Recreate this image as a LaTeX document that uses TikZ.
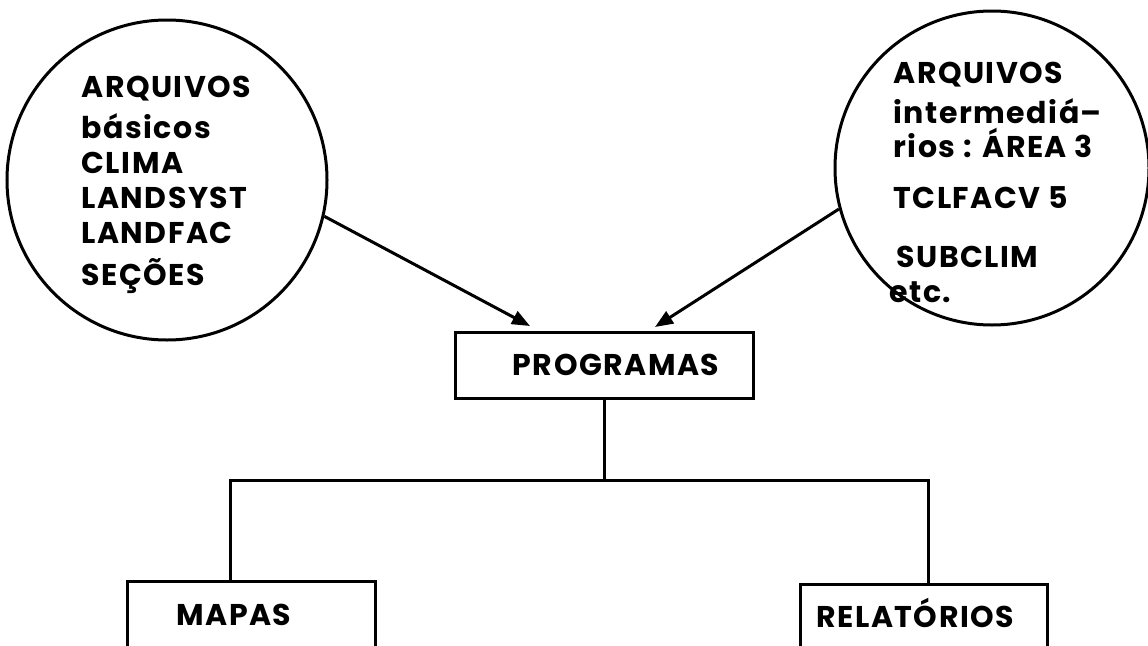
\documentclass[tikz,border=0pt]{standalone}
\usepackage{fontspec}
\setmainfont{Poppins}
\newfontfamily\lblfont{Poppins}[LetterSpace=5]
\usetikzlibrary{arrows.meta}
\begin{document}
\begin{tikzpicture}[x=1pt, y=-1pt, line width=3pt,
  txt/.style={font=\lblfont\fontsize{30}{30}\selectfont\bfseries, inner sep=0pt, anchor=base west},
  disk/.style={circle, draw, inner sep=0pt},
  boxnode/.style={draw, rectangle, inner sep=0pt, font=\lblfont\fontsize{30}{30}\selectfont\bfseries},
  flow/.style={-{Triangle[length=18pt, width=14pt]}}]
\clip (0,0) rectangle (1148,645);

% data files
\node[disk, minimum size=320pt] (lc) at (167,180) {};
\node[disk, minimum size=314pt] (rc) at (992,168) {};

\node[txt] (l1) at (80,97)  {ARQUIVOS};
\node[txt] (l2) at (80,138) {básicos};
\node[txt] (l3) at (80,173) {CLIMA};
\node[txt] (l4) at (80,208) {LANDSYST};
\node[txt] (l5) at (80,243) {LANDFAC};
\node[txt] (l6) at (80,285) {SEÇÕES};

\node[txt] (r1) at (892,83)  {ARQUIVOS};
\node[txt] (r2) at (892,123) {intermediá–};
\node[txt] (r3) at (892,157) {rios : ÁREA 3};
\node[txt] (r4) at (892,208) {TCLFACV 5};
\node[txt] (r5) at (895,267) {SUBCLIM};
\node[txt] (r6) at (888,302) {etc.};

% programs and outputs
\node[boxnode, minimum width=298pt, minimum height=66pt] (prog) at (604,365) {\hspace*{24pt}PROGRAMAS};
\node[boxnode, minimum width=248pt, minimum height=100pt, anchor=north] (mapas) at (251,580) {};
\node[txt] (mapasT) at (175,625) {MAPAS};
\node[boxnode, minimum width=247pt, minimum height=100pt, anchor=north] (rel) at (923.5,583) {};
\node[txt] (relT) at (815,627) {RELATÓRIOS};

% connectors
\coordinate (tipL) at (530,326);
\coordinate (tipR) at (655,327);
\draw[flow] (lc.-13.5) -- (tipL);
\draw[flow] (rc.195.4) -- (tipR);

\coordinate (busL) at (230,480);
\coordinate (busR) at (928,480);
\draw (prog.south) -- (prog.south |- busL);
\draw (busL |- mapas.north) -- (busL) -- (busR) -- (busR |- rel.north);
\end{tikzpicture}
\end{document}
